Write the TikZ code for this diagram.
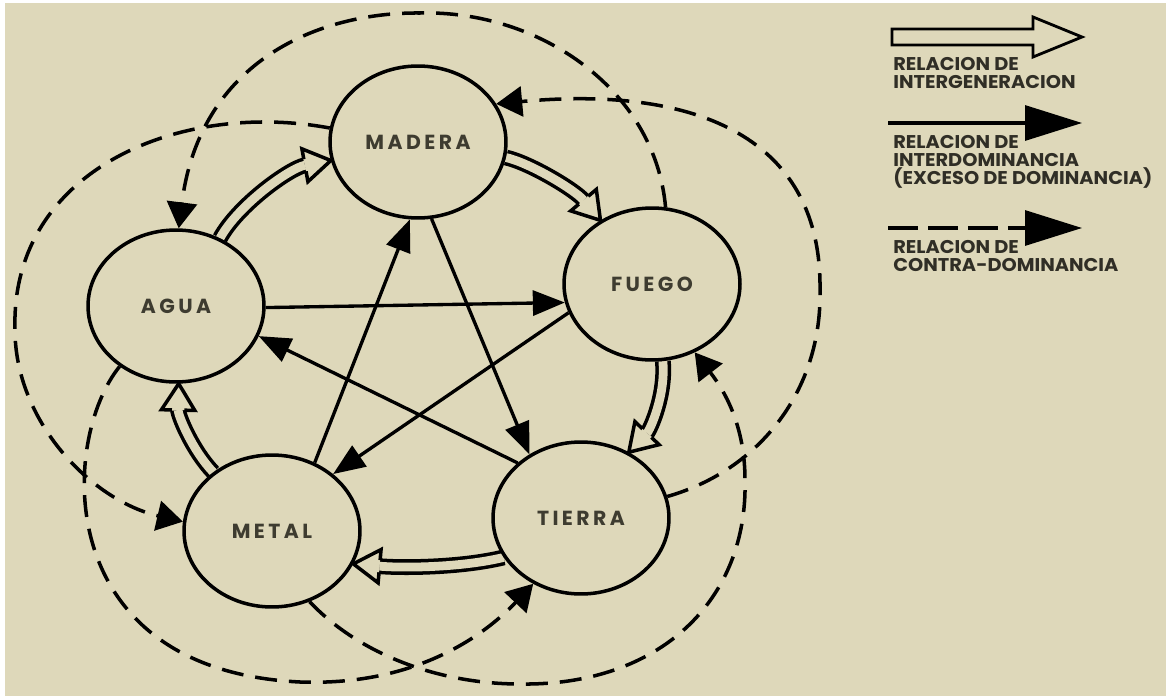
\documentclass[tikz,border=0pt]{standalone}
\usepackage{fontspec}
\usepackage{tikz}
\usetikzlibrary{arrows.meta, shapes.geometric, decorations.markings, backgrounds}
\newfontfamily\elemfont{Poppins}[LetterSpace=17]
\newfontfamily\legfont{Poppins}[FakeStretch=1.05]
\definecolor{papel}{RGB}{222,216,186}
\definecolor{tinta}{RGB}{62,60,48}
\definecolor{leytinta}{RGB}{48,46,38}
\tikzset{
	elemento/.style={ellipse, draw, fill=papel, line width=2pt, minimum width=3.52cm, minimum height=3.04cm, inner sep=0pt, font=\elemfont\bfseries\fontsize{11.6}{13}\selectfont, text=tinta}
}
\tikzset{
	leyenda/.style={anchor=north west, align=left, inner sep=0pt, font=\legfont\bfseries\fontsize{10.5}{10.25}\selectfont, text=leytinta}
}
\tikzset{
	dominancia/.style={line width=1.9pt, -{Triangle[length=0.64cm, width=0.5cm]}},
	contra/.style={line width=2pt, dash pattern=on 0.44cm off 0.24cm, -{Triangle[length=0.52cm, width=0.6cm]}},
	generacion/.style 2 args={draw=papel, line width=5pt, shorten >=#1,
		preaction={draw=black, line width=9pt},
		postaction={decorate, decoration={markings, mark=at position 1 with {
			\fill[papel, shorten >=0pt] (-#1,-#2) -- (0pt,0pt) -- (-#1,#2) -- cycle;
			\draw[black, solid, line width=2pt, line join=miter, shorten >=0pt] (-#1,-3.5pt) -- (-#1,-#2) -- (0pt,0pt) -- (-#1,#2) -- (-#1,3.5pt);
		}}}}
}

\begin{document}
\begin{tikzpicture}[x=0.02cm, y=-0.02cm]
  \useasboundingbox (0,0) rectangle (1166,696);
  \node[elemento] (madera) at (418,142) {MADERA};
  \node[elemento] (fuego) at (652,284) {FUEGO};
  \node[elemento] (tierra) at (581,518) {TIERRA};
  \node[elemento] (metal) at (272,531) {METAL};
  \node[elemento] (agua) at (176,306) {AGUA};
  \begin{scope}[on background layer]
    \fill[white] (0,0) rectangle (1166,696);
    \fill[papel] (5,3) rectangle (1166,696);
    \foreach \a/\b in {agua.359/fuego.192, madera.280/tierra.129, fuego.199/metal.43, tierra.139/agua.340, metal.58/madera.264}
      \draw[dominancia] (\a) -- (\b);
    \draw[generacion={15pt}{9.5pt}] (agua.57) .. controls (238,205) and (290,168) .. (madera.192);
    \draw[generacion={15pt}{9.5pt}] (madera.350) .. controls (530,163) and (575,190) .. (fuego.129);
    \draw[generacion={15pt}{9.5pt}] (fuego.278) .. controls (666,395) and (650,430) .. (tierra.54);
    \draw[generacion={15pt}{9.5pt}] (tierra.207) .. controls (460,568) and (400,568) .. (metal.338);
    \draw[generacion={15pt}{9.5pt}] (metal.135) .. controls (192,450) and (178,415) .. (agua.272);
    \draw[contra] (fuego.80) .. controls (655,90) and (540,10) .. (420,13) .. controls (320,12) and (200,60) .. (agua.88);
    \draw[contra] (madera.171) .. controls (180,100) and (10,170) .. (15,330) .. controls (15,420) and (90,500) .. (metal.174);
    \draw[contra] (agua.227) .. controls (60,440) and (50,670) .. (300,682) .. controls (410,686) and (480,640) .. (tierra.234);
    \draw[contra] (metal.298) .. controls (360,655) and (440,684) .. (520,684) .. controls (660,686) and (748,600) .. (745,480) .. controls (745,420) and (720,385) .. (fuego.302);
    \draw[contra] (tierra.14) .. controls (760,470) and (822,390) .. (820,290) .. controls (822,140) and (700,85) .. (madera.26);
  \end{scope}
  \coordinate (ley1a) at (892,37);
  \coordinate (ley1b) at (1082,37);
  \draw[line width=1.6pt, fill=papel, line join=miter] (ley1a) ++(0,-8) -- ++(141,0) -- ++(0,-12) -- (ley1b) -- ++(-49,20) -- ++(0,-12) -- ++(-141,0) -- cycle;
  \node[leyenda] (ley1) at (893,57) {RELACION DE\\INTERGENERACION};
  \coordinate (ley2a) at (888,123);
  \coordinate (ley2b) at (1082,123);
  \draw[line width=1.8pt, -{Triangle[length=1.14cm, width=0.7cm]}] (ley2a) -- (ley2b);
  \node[leyenda] (ley2) at (893,135) {RELACION DE\\INTERDOMINANCIA\\(EXCESO DE DOMINANCIA)};
  \coordinate (ley3a) at (888,228);
  \coordinate (ley3b) at (1082,228);
  \draw[line width=1.8pt, dash pattern=on 0.6cm off 0.2cm, -{Triangle[length=1.14cm, width=0.7cm]}] (ley3a) -- (ley3b);
  \node[leyenda] (ley3) at (893,240) {RELACION DE\\CONTRA-DOMINANCIA};
\end{tikzpicture}
\end{document}
